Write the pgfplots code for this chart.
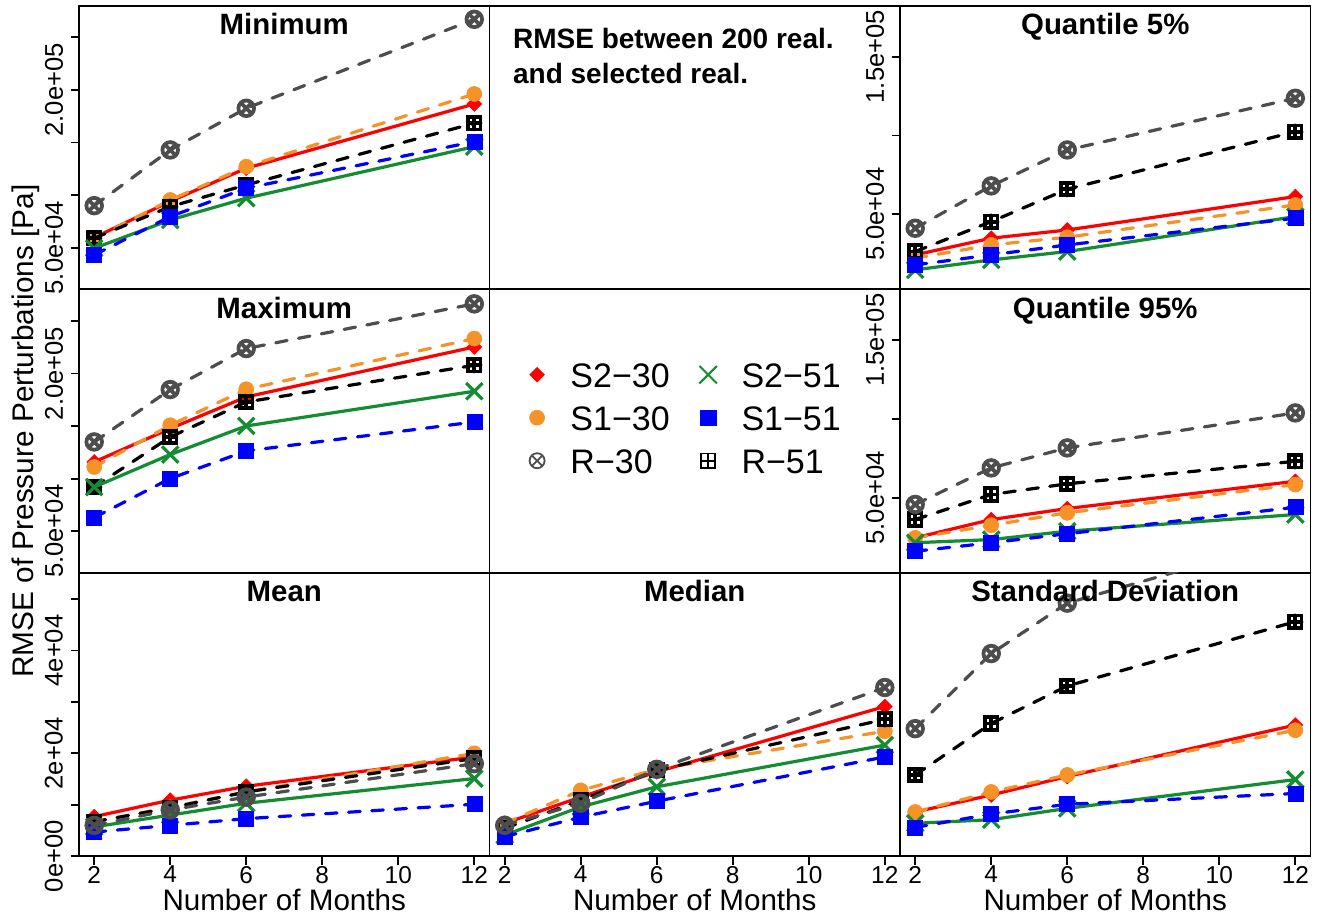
\documentclass[border=0pt]{standalone}
\usepackage{fontspec}
\setmainfont{Liberation Sans}
\usepackage{pgfplots}
\usepackage{pgfplotstable}
\usetikzlibrary{plotmarks}
\pgfplotsset{compat=1.18}

\definecolor{cRed}{RGB}{255,0,0}
\definecolor{cOrange}{RGB}{245,146,40}
\definecolor{cGray}{RGB}{77,77,77}
\definecolor{cGreen}{RGB}{20,140,50}
\definecolor{cBlue}{RGB}{0,0,255}

\pgfdeclareplotmark{boxplus}{%
  \pgfpathrectanglecorners{\pgfqpoint{-\pgfplotmarksize}{-\pgfplotmarksize}}{\pgfqpoint{\pgfplotmarksize}{\pgfplotmarksize}}%
  \pgfpathmoveto{\pgfqpoint{-\pgfplotmarksize}{0pt}}%
  \pgfpathlineto{\pgfqpoint{\pgfplotmarksize}{0pt}}%
  \pgfpathmoveto{\pgfqpoint{0pt}{-\pgfplotmarksize}}%
  \pgfpathlineto{\pgfqpoint{0pt}{\pgfplotmarksize}}%
  \pgfusepathqstroke
}

% columns: S2-30, S1-30, R-51, S2-51, S1-51, R-30
\pgfplotstableread{
x s230 s130 r51 s251 s151 r30
2 59500 58500 59000 49400 43000 89900
4 94000 95300 89000 76300 79500 142900
6 125500 127000 109600 97000 106500 182500
12 186600 196100 168300 146000 150800 267100
}\tMin
\pgfplotstableread{
x s230 s130 r51 s251 s151 r30
2 115900 111100 92100 92000 63000 134900
4 147600 150800 139600 122900 100100 184700
6 177700 185000 172900 150100 126300 223700
12 225200 233200 207800 183100 153900 266200
}\tMax
\pgfplotstableread{
x s230 s130 r51 s251 s151 r30
2 24200 22100 26300 14700 17800 41100
4 34800 30500 45300 21000 24200 68000
6 40000 35400 65900 26300 30500 90800
12 61200 55900 102400 48500 47500 123600
}\tQfive
\pgfplotstableread{
x s230 s130 r51 s251 s151 r30
2 24600 24600 36200 21500 16100 45800
4 36200 32600 52100 23500 21500 69000
6 43200 40500 58900 28800 27200 81700
12 60500 58400 73200 39400 44000 103900
}\tQninetyfive
\pgfplotstableread{
x s230 s130 r51 s251 s151 r30
2 7700 6700 6700 5700 4700 6000
4 10900 9500 9400 8000 6000 9000
6 13600 12500 12500 10300 7300 11500
12 19300 20000 19000 15100 10100 18000
}\tMean
\pgfplotstableread{
x s230 s130 r51 s251 s151 r30
2 6400 6400 5400 4100 3800 6000
4 11500 12800 10900 9600 7600 10300
6 16400 16900 16700 13500 10700 16900
12 29100 24300 26600 21600 19300 32800
}\tMedian
\pgfplotstableread{
x s230 s130 r51 s251 s151 r30
2 8600 8600 15800 6400 5600 24800
4 11900 12500 25800 7100 8200 39400
6 15500 15800 33100 9300 10100 49200
12 25500 24500 45600 14900 12200 62000
}\tStd

\pgfplotsset{
  Rdash/.style={dash pattern=on 5.8pt off 5.8pt, line cap=round},
  sS230/.style={color=cRed, line width=1.6pt, solid, mark=square*, mark size=2.6pt, mark options={solid, rotate=45, line width=0.3pt}},
  sS130/.style={color=cOrange, line width=1.6pt, Rdash, mark=*, mark size=3.75pt, mark options={solid, line width=0.3pt}},
  sR51/.style={color=black, line width=1.6pt, Rdash, mark=boxplus, mark size=3.1pt, mark options={solid, line width=1.9pt}},
  sS251/.style={color=cGreen, line width=1.6pt, solid, mark=x, mark size=5.8pt, mark options={solid, line width=1.6pt}},
  sS151/.style={color=cBlue, line width=1.6pt, Rdash, mark=square*, mark size=3.75pt, mark options={solid, line width=0.3pt}},
  sR30/.style={color=cGray, line width=1.6pt, Rdash, mark=otimes, mark size=3.9pt, mark options={solid, line width=1.9pt}},
  lS230/.style={color=cRed, mark=square*, mark size=2.6pt, mark options={rotate=45, line width=0.3pt}},
  lS130/.style={color=cOrange, mark=*, mark size=3.75pt, mark options={line width=0.3pt}},
  lR51/.style={color=black, mark=boxplus, mark size=3.6pt, mark options={line width=0.9pt}},
  lS251/.style={color=cGreen, mark=x, mark size=6.2pt, mark options={line width=1pt}},
  lS151/.style={color=cBlue, mark=square*, mark size=3.9pt, mark options={line width=0.3pt}},
  lR30/.style={color=cGray, mark=otimes, mark size=3.75pt, mark options={line width=0.9pt}},
  panel/.style={
    scale only axis, width=205.25pt, height=141.75pt, anchor=north west,
    xmin=1.6, xmax=12.4,
    scaled x ticks=false, scaled y ticks=false,
    axis line style={line width=0.9pt},
    every tick/.style={black, line width=0.9pt},
    tick align=outside, tick pos=left, major tick length=4.2pt,
    xtick=\empty, ytick=\empty,
    xticklabel style={font=\fontsize{12.2}{14}\selectfont, anchor=north, inner sep=0pt, yshift=-0.5pt},
    yticklabel style={font=\fontsize{12.8}{15}\selectfont, rotate=90, anchor=south, inner sep=0pt, inner ysep=3.6pt},
    every axis title/.style={at={(0.5,1)}, anchor=base, yshift=-14.5pt, font=\bfseries\fontsize{14.7}{17}\selectfont},
    clip marker paths=true,
    every axis x label/.style={at={(axis description cs:0.5,0)}, anchor=base, yshift=-27pt, font=\fontsize{14.8}{17}\selectfont},
    every axis y label/.style={at={([xshift=-22.85pt]axis description cs:0,0.5)}, rotate=90, anchor=base, font=\fontsize{14.9}{17}\selectfont},
  },
  bigY/.style={ymin=10460, ymax=280040, ytick={50000,100000,150000,200000,250000}, yticklabels={5.0e+04,,,2.0e+05,}},
  quantY/.style={ymin=2410, ymax=182360, ytick={50000,100000,150000}, yticklabels={5.0e+04,,1.5e+05}},
  smallY/.style={ymin=0, ymax=55117},
  bottomX/.style={xtick={2,4,6,8,10,12}, xticklabels={2,4,6,8,10,12}, xlabel={Number of Months}},
}

\newcommand{\allseries}[1]{%
  \addplot[sS230] table[x=x,y=s230]{#1};
  \addplot[sS130] table[x=x,y=s130]{#1};
  \addplot[sR51] table[x=x,y=r51]{#1};
  \addplot[sS251] table[x=x,y=s251]{#1};
  \addplot[sS151] table[x=x,y=s151]{#1};
  \addplot[sR30] table[x=x,y=r30]{#1};
}

\begin{document}
\begin{tikzpicture}
\path[use as bounding box] (0pt,0pt) rectangle (660pt,-460pt);

% Row 1
\begin{axis}[panel, at={(39.5pt,-2.85pt)}, bigY, title={Minimum}]
\allseries{\tMin}
\end{axis}
\begin{axis}[panel, at={(244.75pt,-2.85pt)}, xmin=0, xmax=1, ymin=0, ymax=1]
\node[anchor=base west, inner sep=0pt, xshift=11.6pt, yshift=-21.3pt, font=\bfseries\fontsize{14}{17}\selectfont] at (rel axis cs:0,1) {RMSE between 200 real.};
\node[anchor=base west, inner sep=0pt, xshift=11.6pt, yshift=-38.8pt, font=\bfseries\fontsize{14}{17}\selectfont] at (rel axis cs:0,1) {and selected real.};
\end{axis}
\begin{axis}[panel, at={(450pt,-2.85pt)}, quantY, title={Quantile 5\%}]
\allseries{\tQfive}
\end{axis}

% Row 2
\begin{axis}[panel, at={(39.5pt,-144.65pt)}, bigY, title={Maximum}, ylabel={RMSE of Pressure Perturbations [Pa]}]
\allseries{\tMax}
\end{axis}
\begin{axis}[panel, at={(244.75pt,-144.65pt)}, xmin=0, xmax=1, ymin=0, ymax=1,
  legend columns=2, legend cell align=left,
  legend image code/.code={\path[draw=none, fill=none] (-9pt,-4pt) rectangle (16.7pt,4pt); \draw[#1] plot coordinates {(0pt,0pt)};},
  legend style={at={(0.0711,0.776)}, anchor=north west, draw=none, fill=none, inner sep=0pt, row sep=0pt,
    nodes={inner sep=0pt, text height=16.95pt, text depth=4.55pt, font=\fontsize{17}{20}\selectfont},
    /tikz/every even column/.append style={column sep=10.2pt}}]
\addlegendimage{lS230}\addlegendentry{S2−30}
\addlegendimage{lS251}\addlegendentry{S2−51}
\addlegendimage{lS130}\addlegendentry{S1−30}
\addlegendimage{lS151}\addlegendentry{S1−51}
\addlegendimage{lR30}\addlegendentry{R−30}
\addlegendimage{lR51}\addlegendentry{R−51}
\end{axis}
\begin{axis}[panel, at={(450pt,-144.65pt)}, quantY, title={Quantile 95\%}]
\allseries{\tQninetyfive}
\end{axis}

% Row 3
\begin{axis}[panel, at={(39.5pt,-286.35pt)}, smallY, bottomX, ytick={0,10000,20000,30000,40000,50000}, yticklabels={0e+00,,2e+04,,4e+04,}, title={Mean}]
\allseries{\tMean}
\end{axis}
\begin{axis}[panel, at={(244.75pt,-286.35pt)}, smallY, bottomX, title={Median}]
\allseries{\tMedian}
\end{axis}
\begin{axis}[panel, at={(450pt,-286.35pt)}, smallY, bottomX, title={Standard Deviation}]
\allseries{\tStd}
\end{axis}
\end{tikzpicture}
\end{document}
